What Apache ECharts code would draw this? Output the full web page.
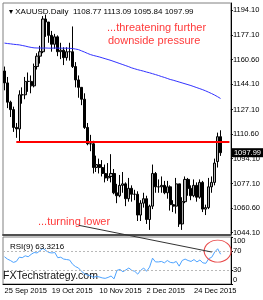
<!DOCTYPE html>
<html>
<head>
<meta charset="utf-8">
<script src="https://cdn.jsdelivr.net/npm/echarts@6/dist/echarts.min.js"></script>
<style>
html, body { margin: 0; padding: 0; background: #fff; }
#chart { width: 263px; height: 300px; }
</style>
</head>
<body>
<div id="chart"></div>
<script>
// daily bars, 25 Sep 2015 .. 8 Jan 2016
const dates = [
  '25 Sep 2015','28 Sep 2015','29 Sep 2015','30 Sep 2015','1 Oct 2015','2 Oct 2015',
  '5 Oct 2015','6 Oct 2015','7 Oct 2015','8 Oct 2015','9 Oct 2015',
  '12 Oct 2015','13 Oct 2015','14 Oct 2015','15 Oct 2015','16 Oct 2015',
  '19 Oct 2015','20 Oct 2015','21 Oct 2015','22 Oct 2015','23 Oct 2015',
  '26 Oct 2015','27 Oct 2015','28 Oct 2015','29 Oct 2015','30 Oct 2015',
  '2 Nov 2015','3 Nov 2015','4 Nov 2015','5 Nov 2015','6 Nov 2015',
  '9 Nov 2015','10 Nov 2015','11 Nov 2015','12 Nov 2015','13 Nov 2015',
  '16 Nov 2015','17 Nov 2015','18 Nov 2015','19 Nov 2015','20 Nov 2015',
  '23 Nov 2015','24 Nov 2015','25 Nov 2015','26 Nov 2015','27 Nov 2015',
  '30 Nov 2015','1 Dec 2015','2 Dec 2015','3 Dec 2015','4 Dec 2015',
  '7 Dec 2015','8 Dec 2015','9 Dec 2015','10 Dec 2015','11 Dec 2015',
  '14 Dec 2015','15 Dec 2015','16 Dec 2015','17 Dec 2015','18 Dec 2015',
  '21 Dec 2015','22 Dec 2015','23 Dec 2015','24 Dec 2015',
  '28 Dec 2015','29 Dec 2015','30 Dec 2015','31 Dec 2015',
  '4 Jan 2016','5 Jan 2016','6 Jan 2016','7 Jan 2016','8 Jan 2016'
];
const dateTicks = ['25 Sep 2015', '19 Oct 2015', '10 Nov 2015', '2 Dec 2015', '24 Dec 2015'];

const open = [
  1153, 1145, 1132, 1127, 1115, 1114,
  1137, 1137, 1146, 1146, 1143,
  1156, 1163, 1166, 1188, 1186,
  1177, 1171, 1176, 1166, 1167,
  1162, 1166, 1166, 1156, 1147,
  1142, 1134, 1115, 1104, 1104,
  1088, 1090, 1088, 1084, 1081,
  1082, 1084, 1071, 1069, 1076,
  1077, 1067, 1074, 1070, 1070,
  1056, 1064, 1067, 1053, 1062,
  1084, 1075, 1075, 1076, 1071,
  1075, 1063, 1062, 1077, 1050,
  1065, 1080, 1074, 1069,
  1076, 1068, 1078, 1060,
  1061, 1075, 1078, 1092, 1108.77
];
const high = [
  1156, 1149, 1133, 1129, 1118, 1140,
  1142, 1149, 1152, 1150, 1158,
  1165, 1170, 1190, 1191, 1186,
  1180, 1178, 1177, 1172, 1169,
  1169, 1172, 1183, 1159, 1150,
  1142, 1138, 1118, 1110, 1106,
  1096, 1094, 1093, 1090, 1091,
  1097, 1087, 1077, 1083, 1085,
  1078, 1081, 1076, 1073, 1072,
  1066, 1071, 1069, 1063, 1090,
  1085, 1080, 1082, 1079, 1079,
  1076, 1066, 1081, 1077, 1068,
  1082, 1081, 1076, 1080,
  1078, 1080, 1079, 1063,
  1081, 1082, 1094, 1111.5, 1113.09
];
const low = [
  1140, 1128, 1122, 1112, 1108, 1105,
  1131, 1134, 1139, 1138, 1142,
  1154, 1158, 1165, 1176, 1172,
  1166, 1168, 1163, 1161, 1157,
  1160, 1160, 1155, 1142, 1135,
  1130, 1114, 1103, 1099, 1084,
  1085, 1084, 1082, 1078, 1079,
  1078, 1070, 1064, 1068, 1071,
  1062, 1065, 1065, 1066, 1052,
  1052, 1061, 1050, 1046, 1060,
  1071, 1071, 1071, 1070, 1067,
  1059, 1058, 1057, 1048, 1046,
  1064, 1069, 1066, 1068,
  1065, 1067, 1058, 1056,
  1060, 1071, 1076, 1088, 1095.84
];
const close = [
  1145, 1132, 1127, 1115, 1114, 1137,
  1137, 1146, 1146, 1143, 1156,
  1163, 1166, 1188, 1186, 1177,
  1171, 1176, 1166, 1167, 1162,
  1166, 1166, 1156, 1147, 1142,
  1134, 1115, 1104, 1104, 1088,
  1090, 1088, 1084, 1081, 1082,
  1084, 1071, 1069, 1076, 1077,
  1067, 1074, 1070, 1070, 1056,
  1064, 1067, 1053, 1062, 1084,
  1075, 1075, 1076, 1071, 1075,
  1063, 1062, 1077, 1050, 1065,
  1080, 1074, 1069, 1076,
  1068, 1078, 1060, 1061,
  1075, 1078, 1091, 1108.77, 1097.99
];
// blue moving average
const ma = [
  1171.8, 1171.5, 1171.3, 1171.0, 1170.8, 1170.6,
  1170.2, 1169.8, 1169.3, 1168.9, 1168.6,
  1168.5, 1168.5, 1168.4, 1168.5, 1168.4,
  1168.4, 1168.5, 1168.4, 1168.4, 1168.4,
  1168.4, 1168.3, 1168.1, 1167.8, 1167.4,
  1166.6, 1165.8, 1164.9, 1164.1, 1163.5,
  1163.0, 1162.5, 1161.9, 1161.3, 1160.7,
  1160.1, 1159.4, 1158.7, 1158.0, 1157.3,
  1156.6, 1155.9, 1155.1, 1154.5, 1153.9,
  1153.4, 1152.9, 1152.3, 1151.8, 1151.2,
  1150.6, 1150.0, 1149.3, 1148.7, 1148.0,
  1147.3, 1146.8, 1146.2, 1145.6, 1145.0,
  1144.4, 1143.8, 1143.2, 1142.5,
  1141.8, 1141.1, 1140.4, 1139.6,
  1138.7, 1137.8, 1136.8, 1135.7, 1134.5
];
// RSI(9)
const rsi = [
  58, 53, 50, 46, 48, 57,
  56, 60, 58, 63, 67,
  66, 71, 76, 71, 67,
  66, 67, 56, 57, 53,
  52, 51, 42, 37, 34,
  27, 22, 19, 18, 14,
  16, 15, 13, 12, 14,
  17, 11, 29, 31, 26,
  30, 34, 29, 27, 21,
  29, 34, 27, 36, 55,
  47, 47, 48, 45, 50,
  46, 45, 48, 38, 50,
  53, 50, 48, 52,
  47, 51, 45, 44,
  54, 57, 68, 75, 63.3216
];

const priceTicks = [1044.10, 1060.60, 1077.10, 1094.10, 1110.60, 1127.10, 1144.10, 1160.60, 1177.10, 1194.10];
const rsiTicks = [0, 30, 70, 100];
const resistance = 1105.3;
// RSI trendline ends [bar index, rsi value]
const rsiTrend = [[25, 125], [70, 68]];

const pad = 3;
const cats = dates.concat(new Array(pad).fill(''));
const candles = open.map((o, i) => [o, close[i], low[i], high[i]]);
const last = dates.length - 1;
const showTick = (idx) => dateTicks.indexOf(cats[idx]) >= 0;
const font = 'Liberation Sans';

const chart = echarts.init(document.getElementById('chart'));
chart.setOption({
  animation: false,
  backgroundColor: '#fff',
  textStyle: { fontFamily: font },
  title: [
    {
      text: '▾ XAUUSD.Daily  ' + [open[last], high[last], low[last], close[last]].map(v => v.toFixed(2)).join(' '),
      left: 4, top: 3,
      textStyle: { fontSize: 8, fontWeight: 'normal', color: '#000', fontFamily: font }
    },
    {
      text: 'RSI(9) ' + rsi[last].toFixed(4),
      left: 5, top: 238,
      textStyle: { fontSize: 8, fontWeight: 'normal', color: '#000', fontFamily: font }
    }
  ],
  graphic: [
    { id: 'note1', type: 'text', left: 107, top: 22, style: { text: '...threatening further', fill: '#ff3a3a', font: '11px ' + font } },
    { id: 'note2', type: 'text', left: 108, top: 35, style: { text: 'downside pressure', fill: '#ff3a3a', font: '11px ' + font } },
    { id: 'note3', type: 'text', left: 38, top: 216, style: { text: '...turning lower', fill: '#ff3a3a', font: '11px ' + font } },
    { id: 'brand', type: 'text', left: 3, top: 271, style: { text: 'FXTechstrategy.com', fill: '#111', font: '10.5px ' + font } }
  ],
  grid: [
    { left: 3, top: 3, width: 228, height: 231.5, show: true, borderColor: '#808080', borderWidth: 1 },
    { left: 3, top: 237, width: 228, height: 47, show: true, borderColor: '#808080', borderWidth: 1 }
  ],
  xAxis: [
    {
      type: 'category', gridIndex: 0, data: cats,
      axisLine: { lineStyle: { color: '#505050', width: 2 } },
      axisTick: { show: false }, axisLabel: { show: false }
    },
    {
      type: 'category', gridIndex: 1, data: cats,
      axisLine: { lineStyle: { color: '#000', width: 1 } },
      axisTick: { interval: showTick, alignWithLabel: true, length: 3, lineStyle: { color: '#000' } },
      axisLabel: { interval: showTick, align: 'left', fontSize: 7.5, color: '#000', margin: 3, fontFamily: font }
    }
  ],
  yAxis: [
    {
      type: 'value', gridIndex: 0, position: 'right', min: 1042.9, max: 1198.8,
      splitLine: { show: false },
      axisLine: { show: true, lineStyle: { color: '#000' } },
      axisTick: { show: true, customValues: priceTicks, length: 2, lineStyle: { color: '#000' } },
      axisLabel: { customValues: priceTicks, formatter: v => v.toFixed(2), fontSize: 7.5, color: '#000', margin: 2, fontFamily: font }
    },
    {
      type: 'value', gridIndex: 1, position: 'right', min: 0, max: 100,
      splitLine: { show: false },
      axisLine: { show: true, lineStyle: { color: '#000' } },
      axisTick: { show: true, customValues: rsiTicks, length: 2, lineStyle: { color: '#000' } },
      axisLabel: {
        customValues: rsiTicks, fontSize: 7.5, color: '#000', margin: 2, fontFamily: font,
        verticalAlignMaxLabel: 'top', verticalAlignMinLabel: 'bottom'
      }
    }
  ],
  series: [
    {
      type: 'candlestick', xAxisIndex: 0, yAxisIndex: 0, data: candles,
      barWidth: 2.6,
      itemStyle: { color: '#b0b0b0', color0: '#000000', borderColor: '#000000', borderColor0: '#000000', borderWidth: 1 },
      markLine: {
        symbol: 'none', silent: true, animation: false,
        data: [
          [
            { coord: [4, resistance], lineStyle: { color: '#ff0000', width: 2, type: 'solid' }, label: { show: false } },
            { coord: [cats.length - 1, resistance] }
          ],
          {
            yAxis: close[last],
            lineStyle: { color: 'rgba(0,0,0,0)', width: 0 },
            label: {
              show: true, position: 'end', distance: 1, formatter: close[last].toFixed(2),
              backgroundColor: '#000', color: '#fff', padding: [1, 2, 0, 2], fontSize: 7.5, fontFamily: font
            }
          }
        ]
      }
    },
    {
      type: 'line', xAxisIndex: 0, yAxisIndex: 0, data: ma,
      symbol: 'none', lineStyle: { color: '#3333ff', width: 1 }
    },
    {
      type: 'line', xAxisIndex: 1, yAxisIndex: 1, data: rsi,
      symbol: 'none', lineStyle: { color: '#4da3ff', width: 1 },
      markLine: {
        symbol: 'none', silent: true, animation: false, label: { show: false },
        data: [
          { yAxis: 70, lineStyle: { color: '#b8b8b8', type: [2, 2], width: 1 } },
          { yAxis: 30, lineStyle: { color: '#b8b8b8', type: [2, 2], width: 1 } }
        ]
      },
      markPoint: {
        silent: true, animation: false,
        data: [{
          coord: [72, 70], symbol: 'circle', symbolSize: [27, 22],
          itemStyle: { color: 'rgba(0,0,0,0)', borderColor: '#e84848', borderWidth: 1 },
          label: { show: false }
        }]
      }
    }
  ]
});

// the RSI trendline runs past the top of its panel, so place it through the RSI axes
const p0 = chart.convertToPixel({ xAxisIndex: 1, yAxisIndex: 1 }, rsiTrend[0]);
const p1 = chart.convertToPixel({ xAxisIndex: 1, yAxisIndex: 1 }, rsiTrend[1]);
chart.setOption({
  graphic: [{
    id: 'trend', type: 'line', z: 10, silent: true,
    shape: { x1: p0[0], y1: p0[1], x2: p1[0], y2: p1[1] },
    style: { stroke: '#333', lineWidth: 1 }
  }]
});
</script>
